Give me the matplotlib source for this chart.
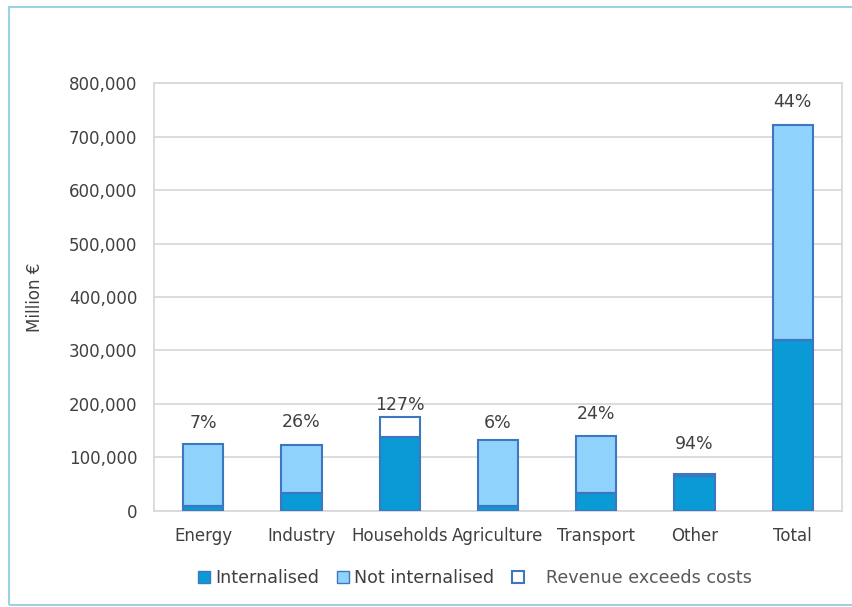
import matplotlib
matplotlib.use('agg')
import matplotlib.pyplot as plt
from matplotlib.patches import Patch, Rectangle
from matplotlib.ticker import FuncFormatter
import numpy as np

# values in million euro
sectors = ['Energy', 'Industry', 'Households', 'Agriculture', 'Transport', 'Other', 'Total']
internalised = [9000, 32500, 137500, 8000, 33000, 65000, 319000]
not_internalised = [116000, 90500, 0, 124500, 106000, 4000, 403000]
revenue_excess = [0, 0, 37500, 0, 0, 0, 0]
share_labels = ['7%', '26%', '127%', '6%', '24%', '94%', '44%']

dark = '#0A9AD6'
light = '#8FD3FC'
edge = '#3F76C0'
grey_txt = '#404040'
grid_c = '#D9D9D9'

fig = plt.figure(figsize=(8.53, 6.07), dpi=100)
ax = fig.add_axes([0.1805, 0.1587, 0.8066, 0.7041])

x = np.arange(len(sectors))
w = 0.41
ax.bar(x, internalised, w, color=dark, edgecolor=edge, linewidth=1.5, zorder=3)
ax.bar(x, not_internalised, w, bottom=internalised, color=light, edgecolor=edge,
       linewidth=1.5, zorder=3)
ax.bar(x, revenue_excess, w, bottom=internalised, color='white', edgecolor=edge,
       linewidth=1.5, zorder=3)

# percentage labels above each bar (households label sits a bit lower)
offsets = [21, 23, 12, 17, 22, 30, 23]
for i in range(len(sectors)):
    top = internalised[i] + not_internalised[i] + revenue_excess[i]
    ax.annotate(share_labels[i], (x[i], top), xytext=(0, offsets[i]),
                textcoords='offset pixels', ha='center', va='center',
                fontsize=12.5, color=grey_txt)

ax.set_xlim(-0.5, len(sectors) - 0.5)
ax.set_ylim(0, 800000)
ax.set_yticks(np.arange(0, 800001, 100000))
ax.yaxis.set_major_formatter(FuncFormatter(lambda v, p: '{:,.0f}'.format(v)))
ax.set_xticks(x)
ax.set_xticklabels(sectors)
ax.tick_params(axis='both', length=0, labelsize=12, labelcolor=grey_txt)
ax.tick_params(axis='y', pad=12)
ax.tick_params(axis='x', pad=12)
ax.grid(axis='y', color=grid_c, linewidth=1.3, zorder=0)
for s in ax.spines.values():
    s.set_color(grid_c)
    s.set_linewidth(1.3)
ax.set_ylabel('Million €', fontsize=12, color=grey_txt, labelpad=18)

handles = [Patch(facecolor=dark, edgecolor=edge),
           Patch(facecolor=light, edgecolor=edge),
           Patch(facecolor='white', edgecolor=edge, linewidth=1.5)]
leg = fig.legend(handles, ['Internalised', 'Not internalised', '   Revenue exceeds costs'],
                 loc='center', bbox_to_anchor=(0.557, 0.048), ncol=3, frameon=False,
                 fontsize=12.6, handlelength=0.7, handleheight=0.7, handletextpad=0.3,
                 columnspacing=1.0)
for t in leg.get_texts():
    t.set_color(grey_txt)
leg.get_texts()[2].set_color('#595959')

# light blue outer frame
fig.patches.append(Rectangle((0.0106, 0.0035), 1.2, 0.985, transform=fig.transFigure,
                             fill=False, edgecolor='#9CD3E3', linewidth=1.5))

fig.savefig('out.png', dpi=100)
